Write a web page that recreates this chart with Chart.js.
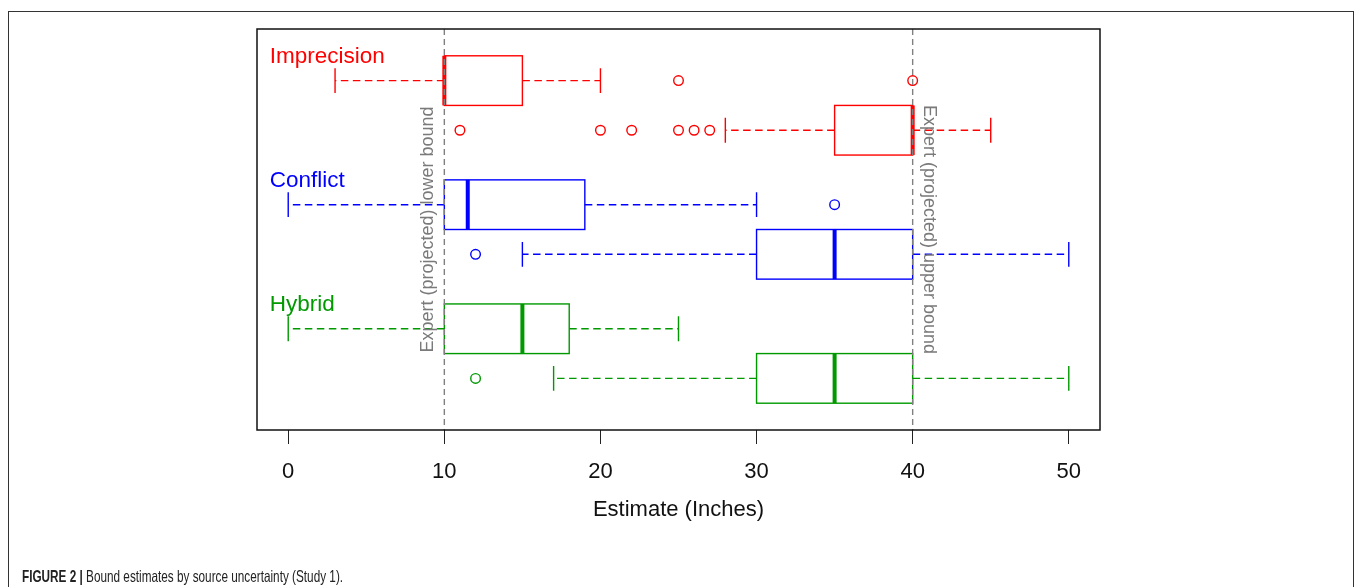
<!DOCTYPE html>
<html>
<head>
<meta charset="utf-8">
<script src="https://cdn.jsdelivr.net/npm/chart.js@4"></script>
<style>
  html, body { margin: 0; padding: 0; background: #fff; width: 1357px; height: 587px; overflow: hidden; }
  #frame { position: absolute; left: 8px; top: 11px; width: 1346px; height: 600px; border: 1px solid #333; box-sizing: border-box; }
  #wrap { position: absolute; left: 0; top: 0; width: 1357px; height: 587px; }
  #caption { position: absolute; left: 22px; top: 567px; font-family: "Liberation Sans", Arial, sans-serif; font-size: 16.5px; color: #222; white-space: nowrap; line-height: 18px; transform: scaleX(0.713); transform-origin: 0 0; }
  #caption b { font-weight: bold; }
</style>
</head>
<body>
<div id="frame"></div>
<div id="wrap"><canvas id="c" width="1357" height="587"></canvas></div>
<div id="caption"><b>FIGURE 2 |</b> Bound estimates by source uncertainty (Study 1).</div>
<script>
// ---- data ----
const groups = ['Imprecision', 'Conflict', 'Hybrid'];
const groupColors = ['#FF0000', '#0000FF', '#009900'];
const boxGroup = [0, 0, 1, 1, 2, 2];           // which group each box belongs to
const boxPositions = [1, 2, 3.5, 4.5, 6, 7];   // lower-bound box then upper-bound box per group
const whiskerLow = [3, 28, 0, 15, 0, 17];
const q1 = [10, 35, 10, 30, 10, 30];
const median = [10, 40, 11.5, 35, 15, 35];
const q3 = [15, 40, 19, 40, 18, 40];
const whiskerHigh = [20, 45, 30, 50, 25, 50];
const outliers = [[25, 40], [11, 20, 22, 25, 26, 27], [35], [12], [], [12]];
const xTicks = [0, 10, 20, 30, 40, 50];
const expertBounds = [10, 40];
const expertLabels = ['Expert (projected) lower bound', 'Expert (projected) upper bound'];
const xTitle = 'Estimate (Inches)';

const FONT = '"Liberation Sans", Arial, Helvetica, sans-serif';

const datasets = boxPositions.map((pos, i) => ({
  label: groups[boxGroup[i]] + ' ' + i,
  data: outliers[i].map(v => ({ x: v, y: pos })),
  showLine: false,
  pointStyle: 'circle',
  pointRadius: 4.8,
  pointBorderWidth: 1.4,
  pointBackgroundColor: 'rgba(0,0,0,0)',
  pointBorderColor: groupColors[boxGroup[i]],
  borderColor: groupColors[boxGroup[i]],
  backgroundColor: 'rgba(0,0,0,0)'
}));

const boxPlugin = {
  id: 'boxes',
  beforeDatasetsDraw(chart) {
    const ctx = chart.ctx, xs = chart.scales.x, ys = chart.scales.y;
    ctx.save();
    boxPositions.forEach((pos, i) => {
      const col = groupColors[boxGroup[i]];
      const yc = ys.getPixelForValue(pos);
      const yt = ys.getPixelForValue(pos - 0.5);
      const yb = ys.getPixelForValue(pos + 0.5);
      const st = ys.getPixelForValue(pos - 0.25);
      const sb = ys.getPixelForValue(pos + 0.25);
      const xL = xs.getPixelForValue(whiskerLow[i]);
      const x1 = xs.getPixelForValue(q1[i]);
      const xm = xs.getPixelForValue(median[i]);
      const x3 = xs.getPixelForValue(q3[i]);
      const xH = xs.getPixelForValue(whiskerHigh[i]);
      ctx.strokeStyle = col;
      ctx.lineWidth = 1.4;
      // dashed whiskers
      ctx.setLineDash([7.5, 4.5]);
      ctx.beginPath();
      ctx.moveTo(x1, yc); ctx.lineTo(xL, yc);
      ctx.moveTo(x3, yc); ctx.lineTo(xH, yc);
      ctx.stroke();
      ctx.setLineDash([]);
      // staples
      ctx.beginPath();
      ctx.moveTo(xL, st); ctx.lineTo(xL, sb);
      ctx.moveTo(xH, st); ctx.lineTo(xH, sb);
      ctx.stroke();
      // box
      ctx.strokeRect(x1, yt, x3 - x1, yb - yt);
      // median
      ctx.lineWidth = 4;
      ctx.lineCap = 'butt';
      ctx.beginPath();
      ctx.moveTo(xm, yt); ctx.lineTo(xm, yb);
      ctx.stroke();
    });
    ctx.restore();
  },
  afterDatasetsDraw(chart) {
    const ctx = chart.ctx, xs = chart.scales.x, ys = chart.scales.y, ca = chart.chartArea;
    ctx.save();
    // expert bound reference lines
    ctx.strokeStyle = '#808080';
    ctx.lineWidth = 1.4;
    ctx.setLineDash([6, 4]);
    expertBounds.forEach(b => {
      const x = xs.getPixelForValue(b);
      ctx.beginPath();
      ctx.moveTo(x, ca.top); ctx.lineTo(x, ca.bottom);
      ctx.stroke();
    });
    ctx.setLineDash([]);
    // rotated labels
    ctx.fillStyle = '#7a7a7a';
    ctx.font = '18px ' + FONT;
    ctx.textAlign = 'center';
    ctx.textBaseline = 'middle';
    const ymid = ys.getPixelForValue(4);
    expertBounds.forEach((b, k) => {
      const x = xs.getPixelForValue(b) + (k === 0 ? -16 : 16);
      ctx.save();
      ctx.translate(x, ymid);
      ctx.rotate(k === 0 ? -Math.PI / 2 : Math.PI / 2);
      ctx.fillText(expertLabels[k], 0, 0);
      ctx.restore();
    });
    // group labels
    ctx.font = '22.5px ' + FONT;
    ctx.textAlign = 'left';
    ctx.textBaseline = 'alphabetic';
    groups.forEach((g, gi) => {
      const firstBox = boxGroup.indexOf(gi);
      ctx.fillStyle = groupColors[gi];
      ctx.fillText(g, xs.getPixelForValue(-1.18), ys.getPixelForValue(boxPositions[firstBox] - 0.36));
    });
    // plot frame
    ctx.strokeStyle = '#111';
    ctx.lineWidth = 1.5;
    ctx.strokeRect(ca.left, ca.top, ca.right - ca.left, ca.bottom - ca.top);
    ctx.restore();
  }
};

new Chart(document.getElementById('c'), {
  type: 'scatter',
  data: { datasets },
  options: {
    responsive: false,
    animation: false,
    devicePixelRatio: 1,
    layout: { padding: { left: 257, right: 257, top: 29, bottom: 0 } },
    plugins: { legend: { display: false }, tooltip: { enabled: false } },
    scales: {
      x: {
        type: 'linear',
        position: 'bottom',
        min: -2,
        max: 52,
        afterBuildTicks(scale) { scale.ticks = xTicks.map(v => ({ value: v })); },
        afterFit(scale) { scale.height = 157; },
        grid: { drawOnChartArea: false, drawTicks: true, tickLength: 14, color: '#222', lineWidth: 1 },
        border: { display: false },
        ticks: { color: '#111', font: { family: FONT, size: 22 }, padding: 14.5, autoSkip: false, maxRotation: 0, callback: v => String(v) },
        title: { display: true, text: xTitle, color: '#111', font: { family: FONT, size: 22 }, padding: { top: 0, bottom: 63.8 } }
      },
      y: {
        type: 'linear',
        display: false,
        reverse: true,
        min: -0.04,
        max: 8.04
      }
    }
  },
  plugins: [boxPlugin]
});
</script>
</body>
</html>
